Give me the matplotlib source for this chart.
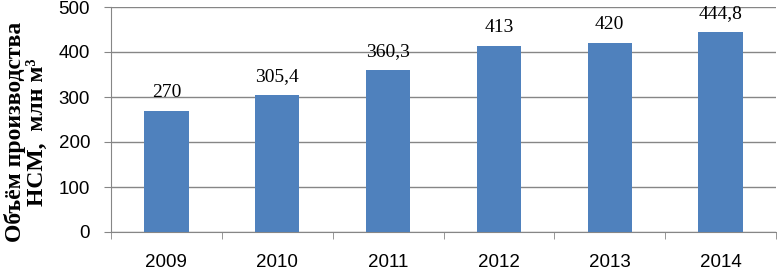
import numpy as np
import matplotlib
matplotlib.use("Agg")
import matplotlib.pyplot as plt

years = ["2009", "2010", "2011", "2012", "2013", "2014"]
volume = [270, 305.4, 360.3, 413, 420, 444.8]
labels = ["270", "305,4", "360,3", "413", "420", "444,8"]

grey = "#868686"

fig = plt.figure(figsize=(7.77, 2.72), dpi=100)
ax = fig.add_axes([111 / 777, 40 / 272, 665 / 777, 225 / 272])

x = np.arange(len(years))
bars = ax.bar(x, volume, width=0.4, color="#4F81BD", zorder=3)

for xi, v, t in zip(x, volume, labels):
    ax.annotate(t, (xi, v), xytext=(0, 10), textcoords="offset points",
                ha="center", va="baseline", fontsize=14,
                family="Liberation Serif")

ax.set_xlim(-0.5, len(years) - 0.5)
ax.set_ylim(0, 500)
ax.set_yticks(range(0, 501, 100))
ax.yaxis.grid(True, color=grey, linewidth=1)
ax.set_axisbelow(True)

ax.set_xticks(x)
ax.set_xticklabels(years)
ax.set_xticks(np.arange(-0.5, len(years)), minor=True)
ax.tick_params(axis="x", which="major", length=0, pad=16, labelsize=13.5)
ax.tick_params(axis="x", which="minor", length=5, color=grey, direction="out")
ax.tick_params(axis="y", length=5, color=grey, pad=10, labelsize=13.5)
for lab in ax.get_xticklabels() + ax.get_yticklabels():
    lab.set_family("Liberation Sans")

for s in ["top", "right"]:
    ax.spines[s].set_visible(False)
for s in ["left", "bottom"]:
    ax.spines[s].set_color(grey)

fig.text(15 / 777, 0.515, "Объём производства", rotation=90, ha="center",
         va="center", fontsize=17, fontweight="bold", family="Liberation Serif")
fig.text(37 / 777, 0.515, "НСМ,  млн м³", rotation=90, ha="center",
         va="center", fontsize=17, fontweight="bold", family="Liberation Serif")

fig.savefig("out.png", dpi=100)
